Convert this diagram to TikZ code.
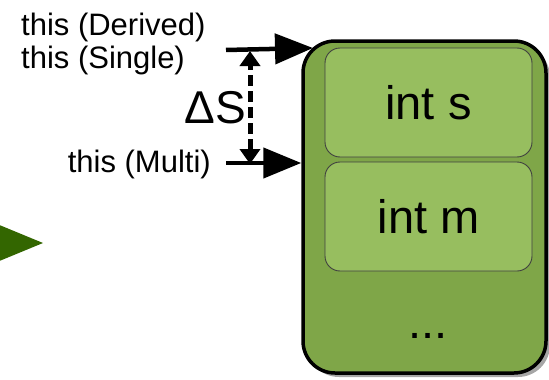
\documentclass[tikz,border=0pt]{standalone}
\usepackage{fontspec}
\setmainfont{Liberation Sans}
\usetikzlibrary{arrows.meta, shadows}
\definecolor{objgreen}{RGB}{127, 166, 72}
\definecolor{fieldgreen}{RGB}{151, 190, 95}
\definecolor{pagegreen}{RGB}{51, 102, 0}
\tikzset{
    objbox/.style={draw, line width=3.5pt, rounded corners=32pt, fill=objgreen, drop shadow={shadow xshift=4pt, shadow yshift=-4pt, fill=gray!70, opacity=1}},
    fieldbox/.style={draw=black!75, line width=0.9pt, rounded corners=15pt, fill=fieldgreen, minimum width=207pt, minimum height=109pt, font=\fontsize{47}{50}\selectfont},
    ptrlabel/.style={font=\fontsize{31}{33}\selectfont, inner sep=0pt},
    ptrarrow/.style={-{Triangle[length=38pt, width=30pt]}, line width=4.5pt},
    deltaarrow/.style={{Triangle[length=15pt, width=20pt]}-{Triangle[length=15pt, width=20pt]}, line width=5pt, dash pattern=on 11pt off 5pt},
}
\begin{document}
\begin{tikzpicture}[x=1pt, y=-1pt]
    \useasboundingbox (0,0) rectangle (549,380);

    % Pointer cue on the left edge
    \fill[pagegreen] (-20,217) -- (43,243) -- (-20,269) -- cycle;

    % Object layout
    \node[objbox, minimum width=243pt, minimum height=332pt] (obj) at (424.5,207) {};
    \node[fieldbox] (fs) at (428.5,102.5) {int s};
    \node[fieldbox] (fm) at (428.5,216.5) {int m};
    \node[font=\fontsize{47}{50}\selectfont, anchor=base] (more) at (428,338) {...};

    % This pointers
    \node[ptrlabel, anchor=base west] (derived) at (21,35) {this (Derived)};
    \node[ptrlabel, anchor=base west] (single) at (21,68) {this (Single)};
    \node[ptrlabel, anchor=base east] (multi) at (211,172) {this (Multi)};
    \node[font=\fontsize{46}{48}\selectfont, inner sep=0pt, anchor=base east] (delta) at (246,123) {ΔS};

    \coordinate (ps) at (226,50);
    \coordinate (pm) at (226,163);
    \coordinate (corner) at (313,48);
    \draw[ptrarrow] (ps) -- (corner);
    \draw[ptrarrow] (pm) -- (pm -| obj.west);

    % Offset between the two
    \coordinate (dtop) at (250,51);
    \coordinate (dbot) at (250,164);
    \draw[deltaarrow] (dbot) -- (dtop);
\end{tikzpicture}
\end{document}
